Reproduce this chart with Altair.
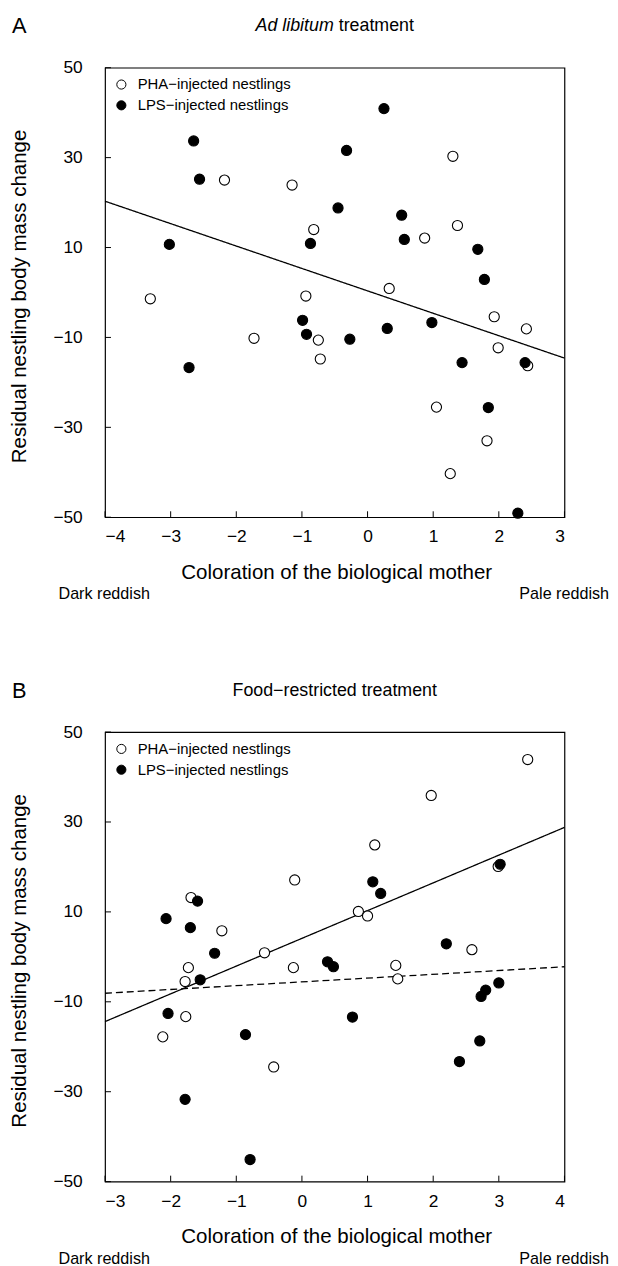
import altair as alt
import pandas as pd

FONT = "Liberation Sans"

# ---------------- data ----------------
groups = ["PHA\u2212injected nestlings", "LPS\u2212injected nestlings"]

A_pha_x = [1.30, -2.18, -1.15, -0.82, 1.37, 0.87, 0.33, -3.31, -0.94, -1.73, -0.75, -0.72, 1.93, 2.42, 1.99, 2.44, 1.05, 1.82, 1.26]
A_pha_y = [30.3, 25.0, 23.9, 14.0, 14.9, 12.1, 0.9, -1.4, -0.8, -10.2, -10.6, -14.8, -5.4, -8.1, -12.3, -16.3, -25.5, -33.0, -40.3]
A_lps_x = [0.25, -2.65, -0.32, -2.56, -0.45, 0.52, -3.02, -0.87, 0.56, 1.68, 1.78, -0.99, -0.93, -0.27, 0.30, 0.98, 1.44, 2.40, -2.72, 1.84, 2.29]
A_lps_y = [40.9, 33.7, 31.6, 25.2, 18.8, 17.2, 10.7, 10.9, 11.8, 9.6, 2.9, -6.2, -9.3, -10.4, -8.0, -6.7, -15.6, -15.6, -16.7, -25.6, -49.1]

B_pha_x = [3.44, 1.97, 1.11, -0.11, 2.99, -1.69, 0.86, 1.00, -1.22, -0.57, -0.13, -1.73, -1.78, 1.43, 1.46, 2.59, -1.77, -2.12, -0.43]
B_pha_y = [43.9, 35.9, 24.9, 17.1, 20.1, 13.2, 10.1, 9.1, 5.8, 0.9, -2.4, -2.4, -5.5, -1.9, -4.9, 1.6, -13.3, -17.8, -24.5]
B_lps_x = [3.02, 1.08, 1.20, -1.59, -2.07, -1.70, -1.33, -1.55, 0.39, 0.48, 2.20, 3.00, 2.80, 2.73, -2.04, 0.77, -0.86, 2.71, 2.40, -1.78, -0.79]
B_lps_y = [20.6, 16.7, 14.1, 12.4, 8.5, 6.5, 0.8, -5.1, -1.1, -2.2, 2.9, -5.8, -7.4, -8.8, -12.6, -13.4, -17.3, -18.7, -23.3, -31.7, -45.1]

A_line_x = [-4, 3]
A_line_y = [20.3, -14.6]
B_solid_x = [-3, 4]
B_solid_y = [-14.4, 28.8]
B_dash_x = [-3, 4]
B_dash_y = [-8.1, -2.2]

y_ticks = [50, 30, 10, -10, -30, -50]
A_x_ticks = [-4, -3, -2, -1, 0, 1, 2, 3]
B_x_ticks = [-3, -2, -1, 0, 1, 2, 3, 4]
y_domain = [-50, 50]
A_x_domain = [-4, 3]
B_x_domain = [-3, 4]

x_title = "Coloration of the biological mother"
y_title = "Residual nestling body mass change"
left_note = "Dark reddish"
right_note = "Pale reddish"

W, H = 464, 454


def text_layer(txt, x, y, size, align="left", style="normal", baseline="alphabetic", angle=0):
    return alt.Chart(pd.DataFrame({"t": [txt]})).mark_text(
        font=FONT, fontSize=size, align=align, baseline=baseline,
        fontStyle=style, color="black", angle=angle
    ).encode(text="t:N", x=alt.value(x), y=alt.value(y))


def panel(pha_x, pha_y, lps_x, lps_y, xdom, xticks, lines, label, label_y, titles):
    xs = alt.Scale(domain=xdom, nice=False, zero=False)
    ys = alt.Scale(domain=y_domain, nice=False, zero=False)
    xaxis = alt.Axis(values=xticks, format="d", ticks=False, tickSize=0, domain=False, grid=False,
                     labelPadding=11, labelFontSize=17.5, labelFont=FONT, labelColor="black",
                     title=None)
    yaxis = alt.Axis(values=y_ticks, format="d", ticks=False, tickSize=0, domain=False, grid=False,
                     labelPadding=23, labelFontSize=17.5, labelFont=FONT, labelColor="black",
                     title=None)

    pts = pd.DataFrame({
        "x": pha_x + lps_x,
        "y": pha_y + lps_y,
        "g": [groups[0]] * len(pha_x) + [groups[1]] * len(lps_x),
    })
    points = alt.Chart(pts).mark_circle(size=105, stroke="black", strokeWidth=1.1, opacity=1).encode(
        x=alt.X("x:Q", scale=xs, axis=xaxis),
        y=alt.Y("y:Q", scale=ys, axis=yaxis),
        fill=alt.Fill("g:N", scale=alt.Scale(domain=groups, range=["white", "black"]),
                      legend=alt.Legend(orient="none", legendX=9, legendY=9.5, title=None,
                                        labelFont=FONT, labelFontSize=15, labelColor="black",
                                        symbolType="circle", symbolSize=85,
                                        symbolStrokeColor="black", symbolStrokeWidth=1,
                                        labelOffset=9, padding=0, rowPadding=5)),
    )

    ytk = alt.Chart(pd.DataFrame({"y": y_ticks})).mark_rule(color="black", strokeWidth=1).encode(
        y=alt.Y("y:Q", scale=ys, axis=yaxis), x=alt.value(0), x2=alt.value(6))
    xtk = alt.Chart(pd.DataFrame({"x": xticks})).mark_rule(color="black", strokeWidth=1).encode(
        x=alt.X("x:Q", scale=xs, axis=xaxis), y=alt.value(H - 6), y2=alt.value(H))

    line_layers = []
    for lx, ly, dash in lines:
        line_layers.append(
            alt.Chart(pd.DataFrame({"x": lx, "y": ly})).mark_line(
                color="black", strokeWidth=1.3, strokeDash=dash).encode(
                x=alt.X("x:Q", scale=xs, axis=xaxis), y=alt.Y("y:Q", scale=ys, axis=yaxis))
        )

    texts = [
        text_layer(label, -94, label_y, 22),
        text_layer(y_title, -86, H / 2 + 4, 20.7, align="center", baseline="middle", angle=270),
        text_layer(x_title, W / 2 + 2, H + 62.4, 20.7, align="center"),
        text_layer(left_note, -47, H + 83, 16.3),
        text_layer(right_note, W + 45, H + 83, 16.3, align="right"),
    ]
    for t in titles:
        texts.append(text_layer(t[0], t[1], t[2], 18, align=t[3], style=t[4]))

    return alt.layer(ytk, xtk, *line_layers, points, *texts).properties(width=W, height=H)


A = panel(A_pha_x, A_pha_y, A_lps_x, A_lps_y, A_x_domain, A_x_ticks,
          [(A_line_x, A_line_y, [1, 0])], "A", -35.1,
          [("Ad libitum", 231, -36.6, "right", "italic"),
           ("treatment", 236, -36.6, "left", "normal")])
B = panel(B_pha_x, B_pha_y, B_lps_x, B_lps_y, B_x_domain, B_x_ticks,
          [(B_solid_x, B_solid_y, [1, 0]), (B_dash_x, B_dash_y, [7, 4])], "B", -34.1,
          [("Food\u2212restricted treatment", W / 2, -36.6, "center", "normal")])

chart = alt.vconcat(A, B, spacing=77).resolve_scale(
    x="independent", y="independent", fill="independent"
).properties(
    padding={"top": 0, "left": 0, "right": 0, "bottom": 0}
).configure_view(stroke="black", strokeWidth=1.2)

chart.save("out.html", embed_options={"renderer": "svg", "actions": False})
